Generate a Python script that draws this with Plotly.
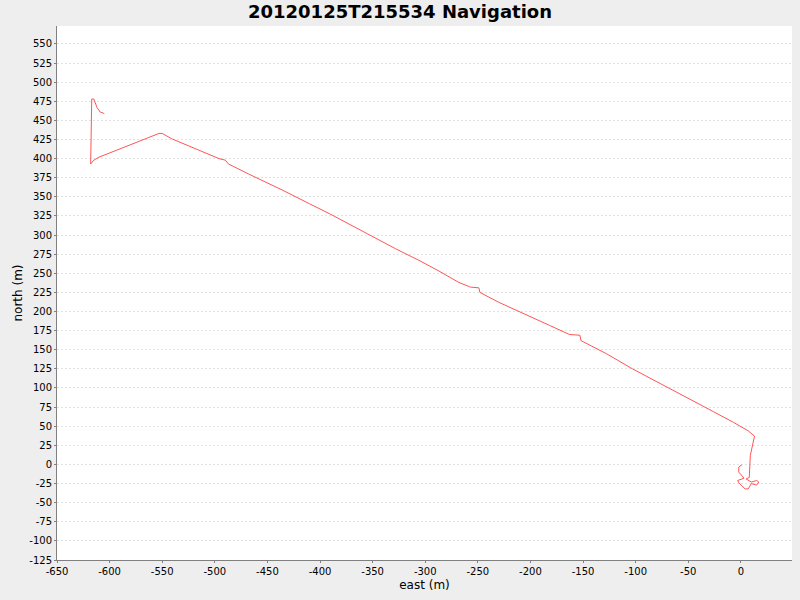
import plotly.graph_objects as go

title_text = "20120125T215534 Navigation"

east = [1, -2, -2, 1, 3, -3, -2, 1, 4, 7, 10, 15, 17, 15, 10, 5, 8, 9, 13, 13, 7, 2,
        -7, -26, -52, -77, -103, -128, -134, -152, -153, -163, -182, -210, -230, -248,
        -249, -257, -268, -287, -306, -328, -347, -372, -391, -410, -430, -436, -468,
        -487, -490, -496, -515, -531, -541, -550, -553, -564, -582, -598, -610,
        -615, -618, -617, -615, -612, -609, -605]
north = [-0.4, -3.5, -10, -14, -18, -21, -24, -28, -32, -32, -25, -27, -23, -21, -23, -19,
         -17, 12, 34, 37, 44, 48, 55, 69, 88, 106, 125, 145, 149, 162, 169, 170, 182, 199,
         212, 225, 231, 232, 238, 253, 267, 282, 296, 314, 328, 341, 355, 359, 380, 393,
         398, 400, 411, 420, 426, 433, 433, 427, 417, 409, 402, 398, 393, 478, 478,
         467, 461, 459]

x_ticks = list(range(-650, 1, 50))
y_ticks = list(range(-125, 551, 25))

fig = go.Figure()
fig.add_trace(go.Scatter(x=east, y=north, mode="lines",
                         line=dict(color="#FF5555", width=1), showlegend=False))

fig.update_layout(
    width=800, height=600,
    paper_bgcolor="#EEEEEE", plot_bgcolor="#FFFFFF",
    margin=dict(l=57, r=8, t=26, b=40, autoexpand=False),
    font=dict(family="DejaVu Sans", size=10, color="#000000"),
    title=dict(text="<b>" + title_text + "</b>", x=0.5, xanchor="center",
               xref="container", yref="container",
               y=1 - 12 / 600, yanchor="middle", automargin=False,
               font=dict(family="DejaVu Sans", size=18, color="#000000")),
)
fig.update_xaxes(
    range=[-650, 48.6], tickvals=x_ticks, ticktext=[str(v) for v in x_ticks],
    showgrid=False, zeroline=False, automargin=False,
    showline=True, linecolor="#808080", linewidth=1,
    ticks="outside", ticklen=2, tickcolor="#808080",
    title=dict(text="east (m)", font=dict(size=12), standoff=4),
)
fig.update_yaxes(
    range=[-125, 573.5], tickvals=y_ticks, ticktext=[str(v) for v in y_ticks],
    showgrid=True, gridcolor="#E2E2E2", griddash="2px,2px", gridwidth=1,
    zeroline=False, automargin=False,
    showline=True, linecolor="#808080", linewidth=1,
    ticks="outside", ticklen=2, tickcolor="#808080",
    title=dict(text="north (m)", font=dict(size=12), standoff=4),
)

fig.write_html("out.html", config={"displayModeBar": False},
               post_script="document.body.style.margin='0';document.body.style.padding='0';")
